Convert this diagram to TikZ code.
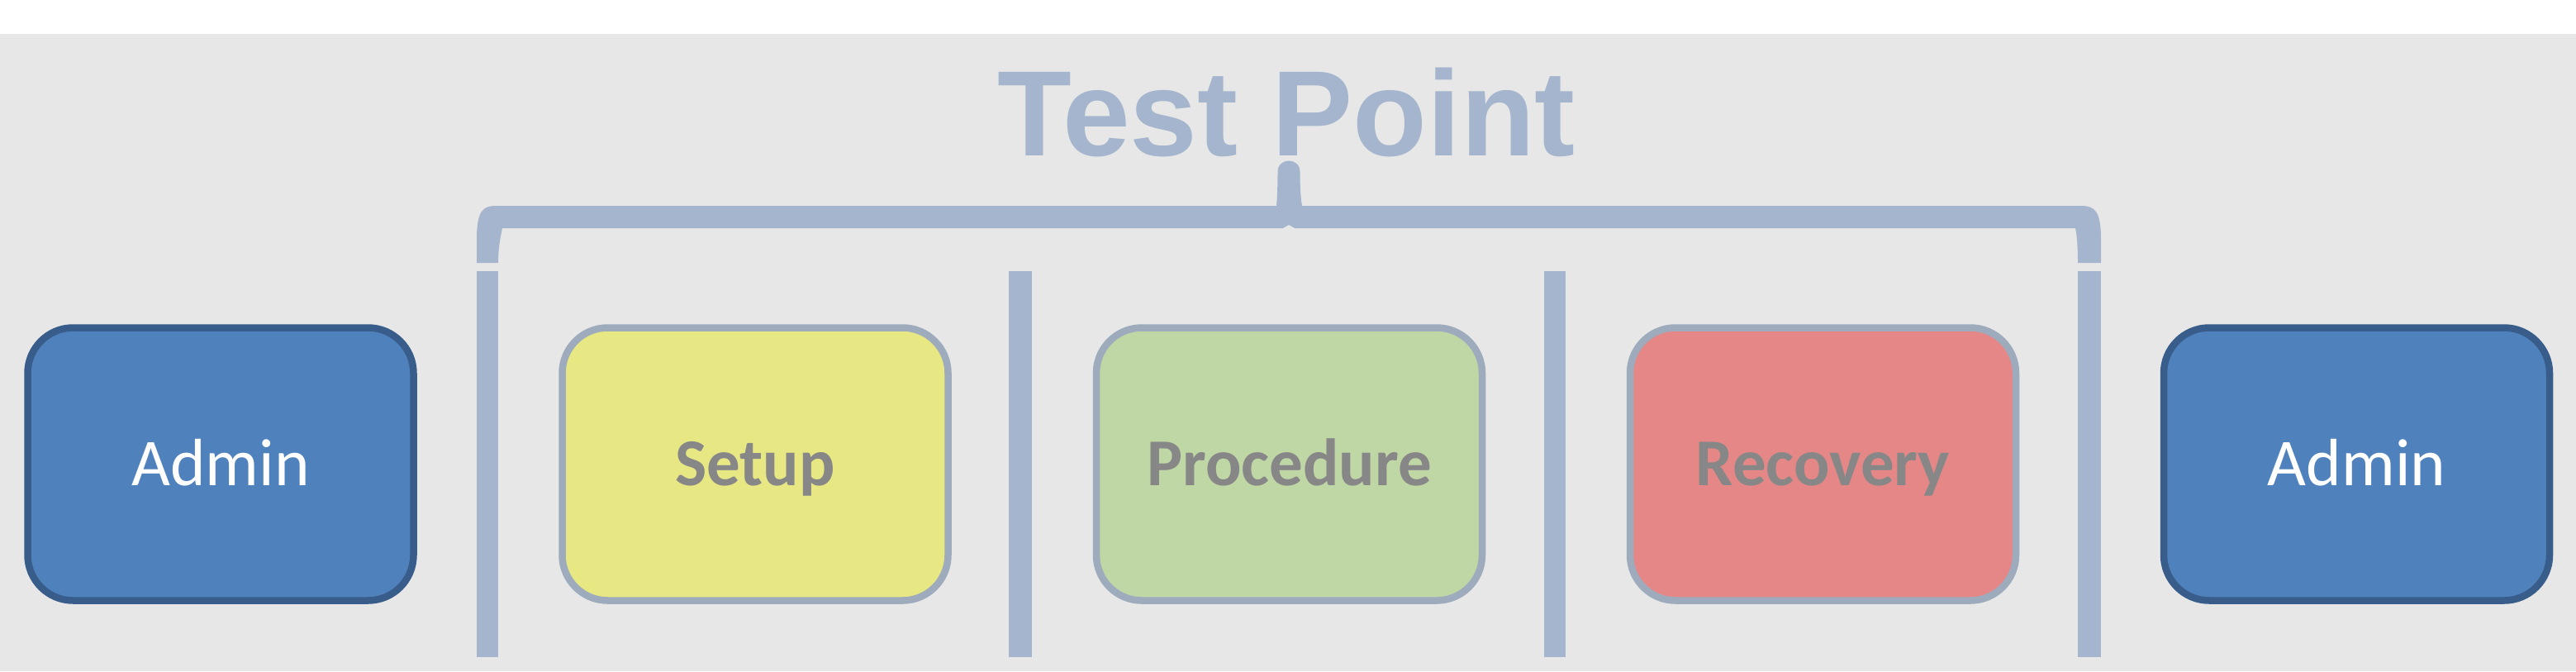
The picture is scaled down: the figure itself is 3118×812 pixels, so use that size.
\documentclass[tikz,border=0pt]{standalone}
\usepackage{fontspec}
\setmainfont{Carlito}
\newfontfamily\titlefont{Liberation Sans}
\definecolor{bgc}{HTML}{E7E7E7}
\definecolor{barc}{HTML}{A4B5CD}
\definecolor{adminfill}{HTML}{4F81BD}
\definecolor{adminline}{HTML}{385D8A}
\definecolor{phaseline}{HTML}{9DABBC}
\definecolor{phasetext}{HTML}{878787}
\definecolor{setupfill}{HTML}{E7E784}
\definecolor{procfill}{HTML}{BFD6A5}
\definecolor{recfill}{HTML}{E68787}
\begin{document}
\begin{tikzpicture}[x=1pt,y=-1pt,
  box/.style={rectangle, rounded corners=55pt, minimum width=467pt, minimum height=330pt,
    line width=8.5pt, text height=52pt, text depth=0pt, inner sep=0pt},
  adminbox/.style={box, fill=adminfill, draw=adminline, text=white, font=\fontsize{81}{97}\selectfont},
  phasebox/.style={box, draw=phaseline, text=phasetext, font=\fontsize{81}{97}\selectfont\bfseries},
  bar/.style={fill=barc}]
\useasboundingbox (0,0) rectangle (3118,812);
\fill[white] (0,0) rectangle (3118,41);
\fill[bgc] (0,41) rectangle (3118,812);
% title
\node[anchor=base, text=barc, font=\titlefont\bfseries\fontsize{147}{170}\selectfont, inner sep=0pt] (title) at (1557,188) {Test Point};
% bracket
\fill[bar] (577,318) -- (577,290) .. controls (577,256) and (584,249) .. (600,249)
  -- (1545,249) .. controls (1546,238) and (1546.5,222) .. (1546.5,208)
  .. controls (1546.5,190) and (1573.5,190) .. (1573.5,208)
  .. controls (1573.5,222) and (1574,238) .. (1576,249)
  -- (2519,249) .. controls (2536,249) and (2543,256) .. (2543,290) -- (2543,318)
  -- (2515,318) .. controls (2515,300) and (2514,285) .. (2512,276)
  -- (1567,276) -- (1560,272) -- (1553,276)
  -- (608,276) .. controls (606,285) and (603,300) .. (603,318) -- cycle;
% bars
\fill[bar] (577,328) rectangle (603,795);
\fill[bar] (1221,328) rectangle (1249,795);
\fill[bar] (1869,328) rectangle (1895,795);
\fill[bar] (2515,328) rectangle (2543,795);
% boxes
\node[adminbox] (admin1) at (267,561.5) {Admin};
\node[phasebox, fill=setupfill] (setup) at (914,561.5) {Setup};
\node[phasebox, fill=procfill] (proc) at (1560.5,561.5) {Procedure};
\node[phasebox, fill=recfill] (rec) at (2206.5,561.5) {Recovery};
\node[adminbox] (admin2) at (2852.5,561.5) {Admin};
\end{tikzpicture}
\end{document}
